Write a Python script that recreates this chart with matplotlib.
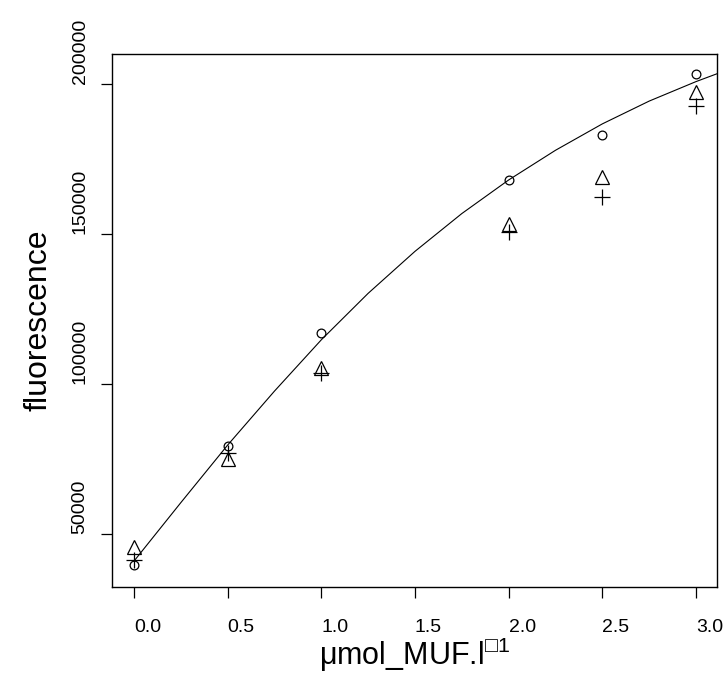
import numpy as np
import matplotlib
matplotlib.use('Agg')
import matplotlib.pyplot as plt

plt.rcParams['font.family'] = ['Liberation Sans', 'DejaVu Sans']
plt.rcParams['mathtext.fontset'] = 'custom'
plt.rcParams['mathtext.rm'] = 'Liberation Sans'

# concentrations
conc = [0.0, 0.5, 1.0, 2.0, 2.5, 3.0]
# three replicate series
fl_circle = [39800, 79500, 117000, 168100, 183200, 203300]
fl_triangle = [45600, 75000, 105300, 153400, 169000, 197300]
fl_plus = [41300, 77000, 103700, 150700, 162500, 192900]

# fitted curve
curve_x = [0.0, 0.25, 0.5, 0.75, 1.0, 1.25, 1.5, 1.75, 2.0, 2.25, 2.5, 2.75, 3.0, 3.12]
curve_y = [41000, 60500, 79700, 97700, 114800, 130300, 144300, 156900, 168100, 178000,
           186800, 194400, 200900, 203700]

xticks = [0.0, 0.5, 1.0, 1.5, 2.0, 2.5, 3.0]
xtick_labels = ['0.0', '0.5', '1.0', '1.5', '2.0', '2.5', '3.0']
yticks = [50000, 100000, 150000, 200000]
ytick_labels = ['50000', '100000', '150000', '200000']

fig = plt.figure(figsize=(7.28, 6.86), dpi=100)
ax = fig.add_axes([112 / 728, 1 - 587 / 686, 605 / 728, 533 / 686])

ax.plot(curve_x, curve_y, color='black', lw=0.8)
ax.plot(conc, fl_circle, 'o', ms=6.3, mfc='none', mec='black', mew=0.9)
ax.plot(conc, fl_triangle, '^', ms=9.5, mfc='none', mec='black', mew=0.9)
ax.plot(conc, fl_plus, '+', ms=11, mec='black', mew=0.9)

ax.set_xlim(-0.117, 3.112)
ax.set_ylim(32400, 210100)

ax.set_xticks(xticks)
ax.set_xticklabels(xtick_labels, ha='left')
ax.set_yticks(yticks)
ax.set_yticklabels(ytick_labels, rotation=90, va='bottom', ha='center')
ax.tick_params(direction='out', length=8, width=0.9, labelsize=14)
ax.tick_params(axis='x', pad=15)
ax.tick_params(axis='y', pad=15)
for s in ax.spines.values():
    s.set_linewidth(1.0)

ax.set_xlabel('μmol_MUF.l$^{\\mathregular{□1}}$', fontsize=22, labelpad=0)
ax.set_ylabel('fluorescence', fontsize=23, labelpad=13)

fig.savefig('out.png', dpi=100)
